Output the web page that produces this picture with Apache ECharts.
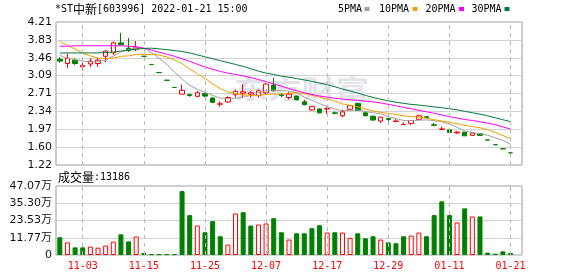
<!DOCTYPE html>
<html><head><meta charset="utf-8">
<script src="https://cdn.jsdelivr.net/npm/echarts@6/dist/echarts.min.js"></script>
<style>html,body{margin:0;padding:0;background:#fff}#c{width:578px;height:276px}</style>
</head><body><div id="c"></div>
<script>
// ---- data ----
const dates = ['10-29','11-01','11-02','11-03','11-04','11-05','11-08','11-09','11-10','11-11','11-12','11-15','11-16','11-17','11-18','11-19','11-22','11-23','11-24','11-25','11-26','11-29','11-30','12-01','12-02','12-03','12-06','12-07','12-08','12-09','12-10','12-13','12-14','12-15','12-16','12-17','12-20','12-21','12-22','12-23','12-24','12-27','12-28','12-29','12-30','12-31','01-04','01-05','01-06','01-07','01-10','01-11','01-12','01-13','01-14','01-17','01-18','01-19','01-20','01-21'];
const labelDates = ['11-03','11-15','11-25','12-07','12-17','12-29','01-11','01-21'];
const opens  = [3.43,3.34,3.41,3.27,3.33,3.34,3.49,3.56,3.77,3.66, 3.64,3.49,3.32,3.15,2.99,2.84,2.70,2.69,2.655,2.71, 2.62,2.49,2.54,2.69,2.72,2.70,2.67,2.73,2.89,2.69, 2.63,2.66,2.54,2.37,2.39,2.39,2.31,2.25,2.385,2.51, 2.31,2.24,2.14,2.19,2.13,2.065,2.09,2.175,2.23,2.06, 1.965,1.955,1.89,1.907,1.84,1.876,1.745,1.645,1.56,1.475];
const closes = [3.39,3.45,3.34,3.30,3.39,3.41,3.60,3.77,3.73,3.61, 3.68,3.49,3.32,3.15,2.99,2.84,2.78,2.67,2.73,2.66, 2.53,2.50,2.63,2.76,2.75,2.73,2.77,2.91,2.77,2.67, 2.70,2.58,2.48,2.44,2.31,2.40,2.30,2.33,2.46,2.36, 2.25,2.16,2.22,2.17,2.14,2.07,2.15,2.25,2.21,2.05, 1.975,1.90,1.91,1.83,1.89,1.84,1.745,1.645,1.56,1.475];
const lows   = [3.36,3.24,3.31,3.20,3.27,3.27,3.37,3.52,3.72,3.58, 3.60,3.49,3.32,3.15,2.99,2.84,2.70,2.65,2.634,2.64, 2.51,2.44,2.52,2.63,2.63,2.63,2.63,2.69,2.76,2.63, 2.59,2.57,2.47,2.36,2.30,2.29,2.28,2.22,2.38,2.35, 2.24,2.15,2.10,2.13,2.13,2.065,2.06,2.17,2.20,2.05, 1.965,1.89,1.87,1.83,1.83,1.84,1.745,1.645,1.56,1.475];
const highs  = [3.47,3.55,3.45,3.36,3.45,3.45,3.62,3.80,3.98,3.87, 3.81,3.49,3.32,3.15,2.99,2.84,2.90,2.71,2.77,2.73, 2.64,2.55,2.655,2.80,2.91,2.76,2.80,2.93,3.04,2.72, 2.75,2.67,2.58,2.45,2.40,2.43,2.34,2.38,2.47,2.52, 2.32,2.25,2.23,2.21,2.18,2.11,2.15,2.27,2.24,2.10, 2.02,1.98,1.93,1.91,1.90,1.88,1.745,1.645,1.56,1.475];
const ma5  = [3.51,3.45,3.42,3.39,3.374,3.378,3.408,3.494,3.58,3.624, 3.678,3.656,3.566,3.45,3.326,3.158,3.016,2.886,2.802,2.736, 2.674,2.618,2.61,2.616,2.634,2.674,2.728,2.784,2.786,2.77, 2.764,2.726,2.64,2.574,2.502,2.442,2.386,2.356,2.36,2.37, 2.34,2.312,2.29,2.232,2.188,2.152,2.15,2.156,2.164,2.146, 2.127,2.077,2.009,1.933,1.901,1.874,1.843,1.79,1.736,1.653];
const ma10 = [3.80,3.72,3.64,3.555,3.50,3.455,3.44,3.455,3.49,3.499, 3.528,3.532,3.53,3.515,3.475,3.418,3.336,3.226,3.126,3.031, 2.916,2.817,2.748,2.709,2.685,2.674,2.673,2.697,2.701,2.702, 2.719,2.727,2.712,2.68,2.636,2.603,2.556,2.498,2.467,2.436, 2.391,2.349,2.323,2.296,2.279,2.246,2.231,2.223,2.198,2.167, 2.14,2.114,2.083,2.049,2.024,2.001,1.96,1.90,1.835,1.777];
const ma20 = [3.70,3.70,3.71,3.71,3.71,3.71,3.71,3.71,3.71,3.70, 3.69,3.66,3.62,3.575,3.535,3.49,3.44,3.385,3.325,3.265, 3.222,3.175,3.139,3.112,3.08,3.046,3.005,2.962,2.914,2.867, 2.818,2.772,2.73,2.695,2.661,2.639,2.615,2.598,2.584,2.569, 2.555,2.538,2.518,2.488,2.458,2.425,2.394,2.361,2.333,2.302, 2.265,2.231,2.203,2.172,2.151,2.123,2.096,2.061,2.016,1.972];
const ma30 = [3.56,3.56,3.56,3.56,3.56,3.56,3.57,3.58,3.60,3.62, 3.64,3.655,3.66,3.645,3.63,3.61,3.59,3.56,3.52,3.48, 3.44,3.40,3.36,3.32,3.28,3.23,3.18,3.14,3.11,3.077, 3.054,3.025,2.997,2.968,2.932,2.898,2.855,2.807,2.765,2.723, 2.675,2.631,2.594,2.562,2.533,2.508,2.487,2.473,2.455,2.435, 2.417,2.397,2.373,2.342,2.313,2.283,2.249,2.207,2.167,2.127];
const volumes = [12.1,8.6,5.2,5.2,5.7,5.0,6.4,9.1,14.1,9.3, 12.6,1.3,0.6,0.6,0.6,0.6,43.6,27.2,20.1,15.5, 23.1,12.8,7.1,28.3,29.2,20.1,20.8,21.5,25.1,15.5, 10.5,14.8,14.8,18.3,20.3,15.3,15.5,15.3,11.7,14.8, 11.4,12.8,10.5,8.6,8.0,12.8,13.2,15.3,12.8,27.2, 36.6,27.2,22.2,31.8,26.3,26.3,1.6,0.9,2.5,1.32];
const priceTicks = ['1.22','1.60','1.97','2.34','2.71','3.09','3.46','3.83','4.21'];
const volTicks = ['0','11.77万','23.53万','35.30万','47.07万'];

// ---- styling ----
const RED = '#ff0000', GREEN = '#008000';
const C_MA5 = '#a0a0a0', C_MA10 = '#f0a000', C_MA20 = '#ff00ff', C_MA30 = '#007a3d';
const MONO = '"DejaVu Sans Mono", monospace';
const CJK = '"Noto Sans CJK SC", sans-serif';
const P_MIN = 1.222, P_MAX = 4.206, P_STEP = 0.373;
const V_MAX = 47.07, V_STEP = 11.7675;

const candleData = dates.map((d, i) => [opens[i], closes[i], lows[i], highs[i]]);
const volData = volumes.map((v, i) => {
  const up = i === 0 ? closes[0] >= opens[0] : closes[i] > closes[i - 1];
  return { value: v, itemStyle: up ? { color: '#fff', borderColor: RED, borderWidth: 1 } : { color: GREEN, borderColor: GREEN, borderWidth: 1 } };
});
function maLine(name, data, color) {
  return { name, type: 'line', xAxisIndex: 0, yAxisIndex: 0, data, showSymbol: false, symbol: 'none',
    lineStyle: { width: 1, color }, itemStyle: { color }, silent: true, z: 4 };
}
// dashed vertical grid lines at the labelled dates, positioned through the category axis
function vGuide(axisIdx, yLo, yHi) {
  return {
    type: 'line', xAxisIndex: axisIdx, yAxisIndex: axisIdx, data: [], silent: true, z: 2.5,
    markLine: {
      silent: true, symbol: ['none', 'none'], animation: false, precision: 4,
      label: { show: false }, emphasis: { disabled: true },
      lineStyle: { type: [4, 4], color: '#b8b8b8', width: 1, opacity: 1 },
      data: labelDates.map(d => [{ coord: [d, yLo] }, { coord: [d, yHi] }])
    }
  };
}
const legendItems = [['5PMA', 338, 364.5, C_MA5], ['10PMA', 379, 412.5, C_MA10], ['20PMA', 425.5, 459, C_MA20], ['30PMA', 471.5, 504.5, C_MA30]];
const graphics = [
  { id: 'wm', type: 'text', x: 234, y: 76, scaleX: 1.3, z: 1.5, silent: true,
    style: { text: '东方财富', fontSize: 26, fontWeight: 'bold', fontFamily: CJK, fill: '#e2e2ea', verticalAlign: 'top' } },
  { id: 'title', type: 'text', x: 55, y: 9, z: 10,
    style: { text: '{a|*ST}{b|中新}{a|[603996] 2022-01-21 15:00}', verticalAlign: 'middle',
      rich: { a: { fontFamily: MONO, fontSize: 10, fill: '#000' }, b: { fontFamily: CJK, fontSize: 12, fill: '#000' } } } },
  { id: 'vol', type: 'text', x: 58, y: 177, z: 10,
    style: { text: '{b|成交量}{a|:13186}', verticalAlign: 'middle',
      rich: { a: { fontFamily: MONO, fontSize: 10, fill: '#000' }, b: { fontFamily: CJK, fontSize: 12, fill: '#000' } } } }
];
legendItems.forEach(([t, tx, rx, c], k) => {
  graphics.push({ id: 'lt' + k, type: 'text', x: tx, y: 9, z: 10, style: { text: t, font: '10px ' + MONO, fill: '#000', verticalAlign: 'middle' } });
  graphics.push({ id: 'lr' + k, type: 'rect', shape: { x: rx, y: 7, width: 5, height: 4 }, style: { fill: c }, z: 10 });
});

const chart = echarts.init(document.getElementById('c'), null, { renderer: 'canvas' });
chart.setOption({
  animation: false,
  backgroundColor: '#fff',
  grid: [
    { left: 56, right: 56, top: 22, height: 143, show: true, borderColor: '#9a9a9a', borderWidth: 1, backgroundColor: 'transparent' },
    { left: 56, right: 56, top: 186, height: 69, show: true, borderColor: '#9a9a9a', borderWidth: 1, backgroundColor: 'transparent' }
  ],
  xAxis: [
    { type: 'category', gridIndex: 0, data: dates, max: 60, boundaryGap: true,
      axisLine: { show: false }, axisTick: { show: false }, axisLabel: { show: false }, splitLine: { show: false } },
    { type: 'category', gridIndex: 1, data: dates, max: 60, boundaryGap: true,
      axisLine: { show: false }, axisTick: { show: false }, splitLine: { show: false },
      axisLabel: { interval: (i, v) => labelDates.includes(v), color: RED, fontFamily: MONO, fontSize: 10, margin: 6 } }
  ],
  yAxis: [
    { type: 'value', gridIndex: 0, min: P_MIN, max: P_MAX, interval: P_STEP, scale: true,
      axisLine: { show: false }, axisTick: { show: false },
      splitLine: { lineStyle: { color: '#d2d2d2', width: 1 } },
      axisLabel: { formatter: v => priceTicks[Math.round((v - P_MIN) / P_STEP)], color: '#111', fontFamily: '"DejaVu Sans", sans-serif', fontSize: 11, margin: 4 } },
    { type: 'value', gridIndex: 1, min: 0, max: V_MAX, interval: V_STEP,
      axisLine: { show: false }, axisTick: { show: false },
      splitLine: { lineStyle: { color: '#d2d2d2', width: 1 } },
      axisLabel: { formatter: v => volTicks[Math.round(v / V_STEP)], color: '#111', fontFamily: '"DejaVu Sans", "Noto Sans CJK SC", sans-serif', fontSize: 11, margin: 4 } }
  ],
  graphic: graphics,
  series: [
    vGuide(0, P_MIN, P_MAX),
    vGuide(1, 0, V_MAX),
    { name: 'K', type: 'candlestick', xAxisIndex: 0, yAxisIndex: 0, data: candleData, barWidth: 5, silent: true, z: 3,
      itemStyle: { color: '#fff', color0: GREEN, borderColor: RED, borderColor0: GREEN, borderWidth: 1 } },
    maLine('5PMA', ma5, C_MA5),
    maLine('10PMA', ma10, C_MA10),
    maLine('20PMA', ma20, C_MA20),
    maLine('30PMA', ma30, C_MA30),
    { name: 'VOL', type: 'bar', xAxisIndex: 1, yAxisIndex: 1, data: volData, barWidth: 5, silent: true, z: 3 }
  ]
});
</script></body></html>
